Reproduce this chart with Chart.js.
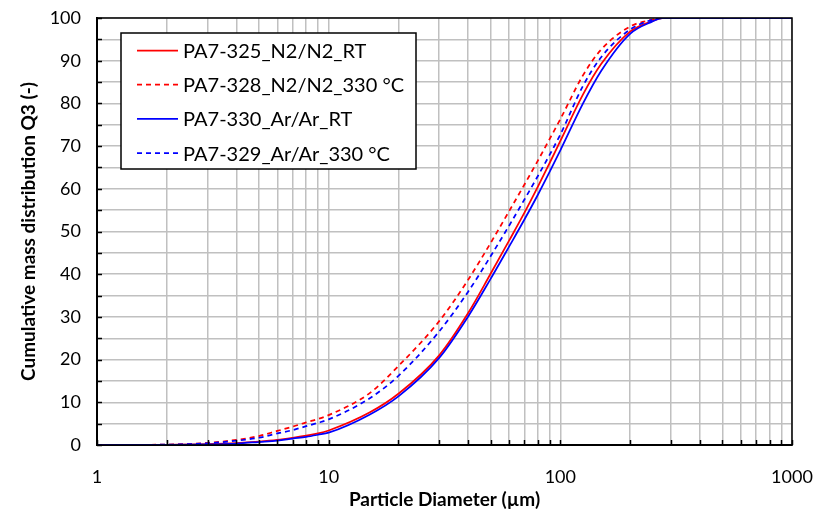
<!DOCTYPE html>
<html>
<head>
<meta charset="utf-8">
<script src="https://cdn.jsdelivr.net/npm/chart.js@4.4.1/dist/chart.umd.min.js"></script>
<style>
  html, body { margin: 0; padding: 0; background: #fff; }
  #wrap { width: 816px; height: 520px; }
</style>
</head>
<body>
<div id="wrap"><canvas id="psdChart"></canvas></div>
<script>
// particle diameters (µm) and cumulative mass distribution Q3 (%)
var diameters = [1, 2, 3, 4, 5, 6, 7, 8, 9, 10, 15, 20, 30, 40, 50, 60, 70, 80, 90, 100, 125, 150, 200, 250, 275, 300, 500, 1000];
var q3_325 = [0, 0.05, 0.2, 0.45, 0.8, 1.2, 1.7, 2.2, 2.7, 3.4, 7.6, 12.0, 21.0, 30.9, 40.1, 47.8, 54.4, 60.5, 66.1, 71.2, 82.0, 89.2, 96.8, 99.3, 100, 100, 100, 100];
var q3_328 = [0, 0.1, 0.5, 1.2, 2.1, 3.3, 4.3, 5.3, 6.1, 7.0, 12.1, 18.5, 29.0, 38.7, 47.3, 54.7, 61.0, 66.6, 71.7, 76.3, 86.5, 92.6, 98.0, 99.6, 100, 100, 100, 100];
var q3_330 = [0, 0.05, 0.15, 0.35, 0.7, 1.0, 1.5, 1.9, 2.4, 2.9, 7.1, 11.4, 20.4, 30.1, 38.9, 46.4, 52.8, 58.6, 64.0, 69.0, 79.9, 87.6, 96.3, 99.2, 100, 100, 100, 100];
var q3_329 = [0, 0.08, 0.4, 1.0, 1.7, 2.7, 3.5, 4.4, 5.2, 6.0, 10.9, 16.2, 26.6, 35.9, 44.2, 51.3, 57.5, 63.0, 68.0, 72.7, 84.0, 90.8, 97.3, 99.6, 100, 100, 100, 100];

var seriesNames = ['PA7-325_N2/N2_RT', 'PA7-328_N2/N2_330 °C', 'PA7-330_Ar/Ar_RT', 'PA7-329_Ar/Ar_330 °C'];
var xTickValues = [1, 2, 3, 4, 5, 6, 7, 8, 9, 10, 20, 30, 40, 50, 60, 70, 80, 90, 100, 200, 300, 400, 500, 600, 700, 800, 900, 1000];
var xTickLabels = {1: '1', 10: '10', 100: '100', 1000: '1000'};

function toPoints(values) {
  return diameters.map(function (d, i) { return { x: d, y: values[i] }; });
}

var FONT = 'Lato, "Open Sans", sans-serif';

// frame, inward tick marks and the boxed legend inside the plot area
var frameAndLegend = {
  id: 'frameAndLegend',
  afterDraw: function (chart) {
    var ctx = chart.ctx;
    var a = chart.chartArea;
    var xs = chart.scales.x, ys = chart.scales.y;
    ctx.save();
    ctx.strokeStyle = '#000';
    ctx.lineWidth = 1.5;
    ctx.strokeRect(a.left, a.top, a.right - a.left, a.bottom - a.top);
    ctx.beginPath();
    xs.ticks.forEach(function (t) {
      var px = Math.round(xs.getPixelForValue(t.value)) + 0.5;
      ctx.moveTo(px, a.bottom);
      ctx.lineTo(px, a.bottom - 5);
    });
    ys.ticks.forEach(function (t) {
      var py = Math.round(ys.getPixelForValue(t.value)) + 0.5;
      ctx.moveTo(a.left, py);
      ctx.lineTo(a.left + 5, py);
    });
    ctx.stroke();

    var lx = a.left + 24, ly = a.top + 15, lw = 295, lh = 136;
    ctx.fillStyle = '#fff';
    ctx.fillRect(lx, ly, lw, lh);
    ctx.strokeRect(lx, ly, lw, lh);
    ctx.font = '20px ' + FONT;
    ctx.textBaseline = 'middle';
    chart.data.datasets.forEach(function (ds, i) {
      var y = ly + 17.5 + i * 34.2;
      ctx.strokeStyle = ds.borderColor;
      ctx.lineWidth = ds.borderWidth;
      ctx.setLineDash(ds.borderDash || []);
      ctx.beginPath();
      ctx.moveTo(lx + 16, y);
      ctx.lineTo(lx + 57, y);
      ctx.stroke();
      ctx.setLineDash([]);
      ctx.fillStyle = '#000';
      ctx.fillText(ds.label, lx + 62, y + 1);
    });
    ctx.restore();
  }
};

var ctx = document.getElementById('psdChart').getContext('2d');
var psdChart = new Chart(ctx, {
  type: 'line',
  data: {
    datasets: [{
      label: seriesNames[0],
      data: toPoints(q3_325),
      borderColor: '#FF0000',
      borderWidth: 1.75,
      order: 4
    }, {
      label: seriesNames[1],
      data: toPoints(q3_328),
      borderColor: '#FF0000',
      borderWidth: 1.75,
      borderDash: [5, 4],
      order: 3
    }, {
      label: seriesNames[2],
      data: toPoints(q3_330),
      borderColor: '#0000FF',
      borderWidth: 1.75,
      order: 2
    }, {
      label: seriesNames[3],
      data: toPoints(q3_329),
      borderColor: '#0000FF',
      borderWidth: 1.75,
      borderDash: [5, 4],
      order: 1
    }]
  },
  options: {
    responsive: true,
    maintainAspectRatio: false,
    animation: false,
    elements: {
      point: { radius: 0 },
      line: { cubicInterpolationMode: 'monotone', fill: false }
    },
    layout: {
      padding: { left: 14, right: 24, top: 18, bottom: 6 }
    },
    plugins: {
      legend: { display: false },
      tooltip: { enabled: false }
    },
    scales: {
      x: {
        type: 'logarithmic',
        min: 1,
        max: 1000,
        afterBuildTicks: function (scale) {
          scale.ticks = xTickValues.map(function (v) { return { value: v }; });
        },
        afterFit: function (scale) {
          scale.height = 69;
          scale.paddingLeft = 0;
          scale.paddingRight = 0;
        },
        ticks: {
          autoSkip: false,
          maxRotation: 0,
          padding: 21,
          color: '#000',
          font: { family: FONT, size: 18 },
          callback: function (v) { return xTickLabels[v] || ''; }
        },
        grid: { color: '#c0c0c0', lineWidth: 1.5, drawTicks: false },
        border: { color: '#000', width: 2 },
        title: {
          display: true,
          text: 'Particle Diameter (µm)',
          color: '#000',
          font: { family: FONT, size: 19, weight: 'bold' },
          padding: { top: 4, bottom: 3 }
        }
      },
      y: {
        min: 0,
        max: 100,
        afterFit: function (scale) {
          scale.width = 83;
          scale.paddingTop = 0;
          scale.paddingBottom = 0;
        },
        ticks: {
          stepSize: 5,
          autoSkip: false,
          padding: 16,
          color: '#000',
          font: { family: FONT, size: 18 },
          callback: function (v) { return v % 10 === 0 ? v : ''; }
        },
        grid: { color: '#c0c0c0', lineWidth: 1.5, drawTicks: false },
        border: { color: '#000', width: 2 },
        title: {
          display: true,
          text: 'Cumulative mass distribution Q3 (-)',
          color: '#000',
          font: { family: FONT, size: 19, weight: 'bold' },
          padding: { top: 3, bottom: 4 }
        }
      }
    }
  },
  plugins: [frameAndLegend]
});
</script>
</body>
</html>
